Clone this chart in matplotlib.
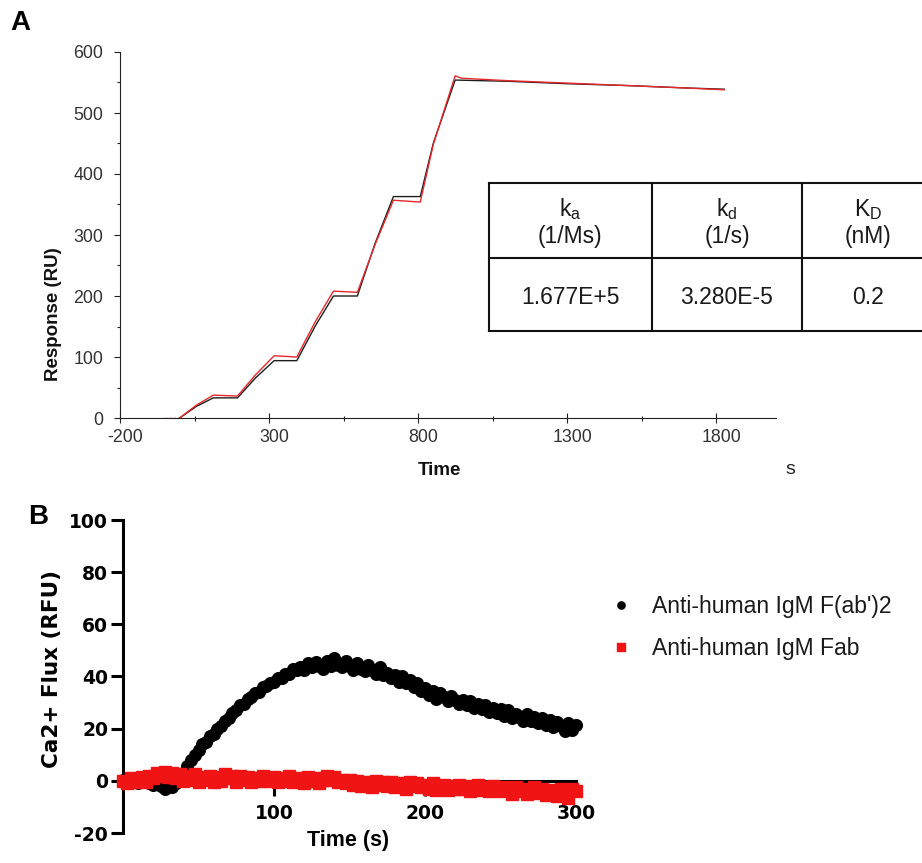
import numpy as np
import matplotlib
matplotlib.use("Agg")
import matplotlib.pyplot as plt
import matplotlib.transforms as mtransforms
from matplotlib.lines import Line2D
from matplotlib.ticker import MultipleLocator, FixedLocator

plt.rcParams['font.family'] = ['Liberation Sans', 'DejaVu Sans']
plt.rcParams['mathtext.fontset'] = 'custom'
plt.rcParams['mathtext.rm'] = 'Liberation Sans'
plt.rcParams['mathtext.it'] = 'Liberation Sans:italic'
plt.rcParams['axes.unicode_minus'] = False

# ---------------- Panel A: single-cycle kinetics sensorgram ----------------
spr_time_measured = [-55, 0, 56, 113, 194, 255, 317, 393, 455, 516, 596, 656, 717,
                     807, 851, 924, 1100, 1300, 1500, 1700, 1827]
spr_resp_measured = [0, 0, 19, 33, 33, 66, 94, 94, 151, 200, 200, 287, 363,
                     363, 451, 554, 552, 548, 545, 541, 539]

spr_time_fit = [-55, 0, 56, 113, 194, 255, 317, 393, 455, 516, 596, 656, 717,
                807, 851, 924, 945, 1100, 1300, 1500, 1700, 1827]
spr_resp_fit = [0, 0, 21, 37.5, 36, 71, 102, 100, 158, 208, 206, 285, 357,
                354, 449, 561, 557, 553, 549, 545, 541, 538]

kinetic_headers = [("k$_\\mathrm{a}$", "(1/Ms)"),
                   ("k$_\\mathrm{d}$", "(1/s)"),
                   ("K$_\\mathrm{D}$", "(nM)")]
kinetic_values = ["1.677E+5", "3.280E-5", "0.2"]

# ---------------- Panel B: calcium flux ----------------
flux_time = np.arange(0, 300.1, 2.5)
flux_fab2 = [0.3, -0.5, 0.5, 0.0, -0.8, 0.4, -0.5, -1.0, -1.5, -1.2,
             -2.0, -3.0, -1.8, -2.5, -1.0, 1.0,
             3.0, 5.5, 8.0, 10.0, 12.0, 14.0, 15.0, 17.0, 18.0, 20.0,
             21.0, 23.0, 24.0, 26.0, 27.0, 29.0, 29.5, 31.5, 32.0, 33.5,
             34.0, 36.0, 36.5, 37.5, 38.0, 39.5, 39.5, 41.0, 41.0, 43.0,
             42.5, 43.5, 42.5, 45.0, 43.5, 45.5, 44.0, 43.0, 46.0, 44.0,
             47.0, 44.5, 43.5, 46.0, 44.0, 42.5, 45.0, 43.0, 42.0, 44.5,
             42.5, 41.0, 43.5, 40.5, 41.5, 39.5, 40.5, 38.0, 40.0, 37.5,
             38.5, 36.0, 37.5, 34.5, 35.5, 33.0, 34.5, 31.5, 33.5, 32.0,
             30.5, 32.5, 31.0, 29.5, 31.0, 29.0, 30.5, 28.0, 29.5, 27.5,
             29.0, 26.5, 28.0, 26.0, 27.5, 25.0, 27.0, 24.0, 25.5, 24.5,
             23.0, 25.5, 23.0, 24.5, 22.0, 24.0, 21.5, 23.5, 20.5, 22.5,
             21.0, 19.0, 22.0, 19.5, 21.5]
flux_fab = [0.0, -1.0, 1.0, -0.5, 0.5, 1.5, -0.5, 2.0, 1.0, 3.0,
            2.0, 3.5, 1.5, 3.0, 1.0, 2.5, 0.0, 2.0, 0.5, 2.5,
            -0.5, 1.5, 0.5, 2.0, -0.5, 1.5, 0.0, 2.5, 1.0, 2.0,
            -0.5, 2.0, 0.5, 1.5, -0.5, 1.0, 0.0, 2.0, 1.0, 0.0,
            1.5, -0.5, 1.0, 0.0, 2.0, -0.5, 1.0, 0.5, -1.0, 1.5,
            0.0, 1.0, -1.0, 0.5, 2.0, 0.5, 1.5, -0.5, 0.5, -1.0,
            0.5, -1.5, 0.0, -2.0, -0.5, -1.0, -2.5, 0.0, -1.5, -0.5,
            -2.0, -0.5, -2.5, -1.0, -1.5, -3.0, -0.5, -2.0, -1.0, -2.5,
            -1.5, -3.0, -1.0, -3.5, -2.0, -1.5, -3.5, -2.0, -3.0, -1.5,
            -3.0, -2.0, -4.0, -2.5, -1.5, -3.5, -2.5, -4.0, -2.0, -3.0,
            -4.0, -2.5, -3.5, -5.0, -2.5, -4.0, -3.0, -5.0, -3.5, -2.5,
            -4.5, -3.0, -5.5, -3.5, -4.0, -6.0, -3.0, -4.5, -6.5, -3.0, -4.0]
legend_labels = ["Anti-human IgM F(ab')2", "Anti-human IgM Fab"]

W, H = 922, 863
fig = plt.figure(figsize=(W / 100, H / 100), dpi=100)


def fx(x):
    return x / W


def fy(y):
    return 1 - y / H


# ---------------- Panel A ----------------
axA = fig.add_axes([fx(120), fy(418), 656 / W, 366 / H])
# pre-injection baseline drawn dotted, the injection series solid
axA.plot(spr_time_measured[:2], spr_resp_measured[:2], color='#555555', lw=1.0, ls=':')
axA.plot(spr_time_fit[:2], spr_resp_fit[:2], color='#e8282c', lw=1.0, ls=(1.5, (1, 2)))
axA.plot(spr_time_measured[1:], spr_resp_measured[1:], color='#1e1e1e', lw=1.0)
axA.plot(spr_time_fit[1:], spr_resp_fit[1:], color='#e8282c', lw=1.0)
axA.set_xlim(-200, 2000)
axA.set_ylim(0, 600)
for s in ('top', 'right'):
    axA.spines[s].set_visible(False)
for s in ('left', 'bottom'):
    axA.spines[s].set_linewidth(0.8)
    axA.spines[s].set_color('#222222')
axA.set_xticks([-200, 300, 800, 1300, 1800])
axA.xaxis.set_minor_locator(FixedLocator([50, 550, 1050, 1550]))
axA.yaxis.set_major_locator(MultipleLocator(100))
axA.yaxis.set_minor_locator(MultipleLocator(50))
axA.tick_params(axis='x', which='major', direction='inout', length=6.5, width=0.8,
                pad=5, labelsize=12.8, labelcolor='#333333', color='#222222')
axA.tick_params(axis='x', which='minor', direction='inout', length=3.6, width=0.8,
                color='#222222')
axA.tick_params(axis='y', which='major', direction='out', length=4, width=0.8,
                pad=8, labelsize=12.8, labelcolor='#333333', color='#222222')
axA.tick_params(axis='y', which='minor', direction='out', length=2.2, width=0.8,
                color='#222222')
shift = mtransforms.ScaledTranslation(5 / 100, 0, fig.dpi_scale_trans)
for lab in axA.get_xticklabels():
    lab.set_transform(lab.get_transform() + shift)

fig.text(fx(20.5), fy(22.5), 'A', fontsize=20, fontweight='bold', ha='center', va='center')
fig.text(fx(53), fy(314), 'Response (RU)', fontsize=13.5, fontweight='bold',
         rotation=90, ha='center', va='center', color='#111111')
fig.text(fx(439), fy(470), 'Time', fontsize=13.5, fontweight='bold',
         ha='center', va='center', color='#111111')
fig.text(fx(790), fy(469), 's', fontsize=14, ha='center', va='center', color='#222222')

# kinetic constants table
tbl_left, tbl_right = 489, 936
row_y = [183, 258, 331]
col_x = [489, 652, 802]
for y in row_y:
    fig.add_artist(Line2D([fx(tbl_left), fx(tbl_right)], [fy(y), fy(y)],
                          color='#111111', lw=1.5))
for x in col_x:
    fig.add_artist(Line2D([fx(x), fx(x)], [fy(row_y[0]), fy(row_y[-1])],
                          color='#111111', lw=1.5))
col_centers = [570, 727, 868]
for cx, (sym, unit), val in zip(col_centers, kinetic_headers, kinetic_values):
    fig.text(fx(cx), fy(216), sym, fontsize=16.5, ha='center', va='baseline', color='#1a1a1a')
    fig.text(fx(cx), fy(243), unit, fontsize=16.5, ha='center', va='baseline', color='#1a1a1a')
    fig.text(fx(cx), fy(304), val, fontsize=16.5, ha='center', va='baseline', color='#1a1a1a')

# ---------------- Panel B ----------------
axB = fig.add_axes([fx(123), fy(833), 453 / W, 313 / H])
h1, = axB.plot(flux_time, flux_fab2, 'o', color='black', ms=8.4, mec='black',
               clip_on=False, zorder=3, label=legend_labels[0])
h2, = axB.plot(flux_time, flux_fab, 's', color='#f01414', ms=8.2, mec='#f01414',
               clip_on=False, zorder=4, label=legend_labels[1])
axB.set_xlim(0, 300)
axB.set_ylim(-20, 100)
axB.spines['top'].set_visible(False)
axB.spines['right'].set_visible(False)
axB.spines['bottom'].set_position(('data', 0))
axB.spines['left'].set_linewidth(2.2)
axB.spines['bottom'].set_linewidth(2.2)
axB.set_xticks([100, 200, 300])
axB.set_yticks(np.arange(-20, 101, 20))
axB.tick_params(axis='x', direction='out', length=11, width=2.2, pad=6,
                labelsize=13.5)
axB.tick_params(axis='y', direction='out', length=8.5, width=2.2, pad=2.2,
                labelsize=13.5)
for lab in axB.get_xticklabels() + axB.get_yticklabels():
    lab.set_family('DejaVu Sans')
    lab.set_fontweight('bold')

fig.text(fx(38), fy(517), 'B', fontsize=20, fontweight='bold', ha='center', va='center')
fig.text(fx(52), fy(669), 'Ca2+ Flux (RFU)', fontsize=15.5, fontweight='bold',
         family='DejaVu Sans', rotation=90, ha='center', va='center')
fig.text(fx(348), fy(840), 'Time (s)', fontsize=15.5, fontweight='bold',
         ha='center', va='center')

fig.legend(handles=[h1, h2], labels=legend_labels, loc='upper left',
           bbox_to_anchor=(fx(598.5), fy(584)), frameon=False, borderpad=0,
           handlelength=1.0, handletextpad=0.85, labelspacing=0.79,
           markerscale=0.62, fontsize=16.5, labelcolor='#1a1a1a')

fig.savefig('out.png', dpi=100)
